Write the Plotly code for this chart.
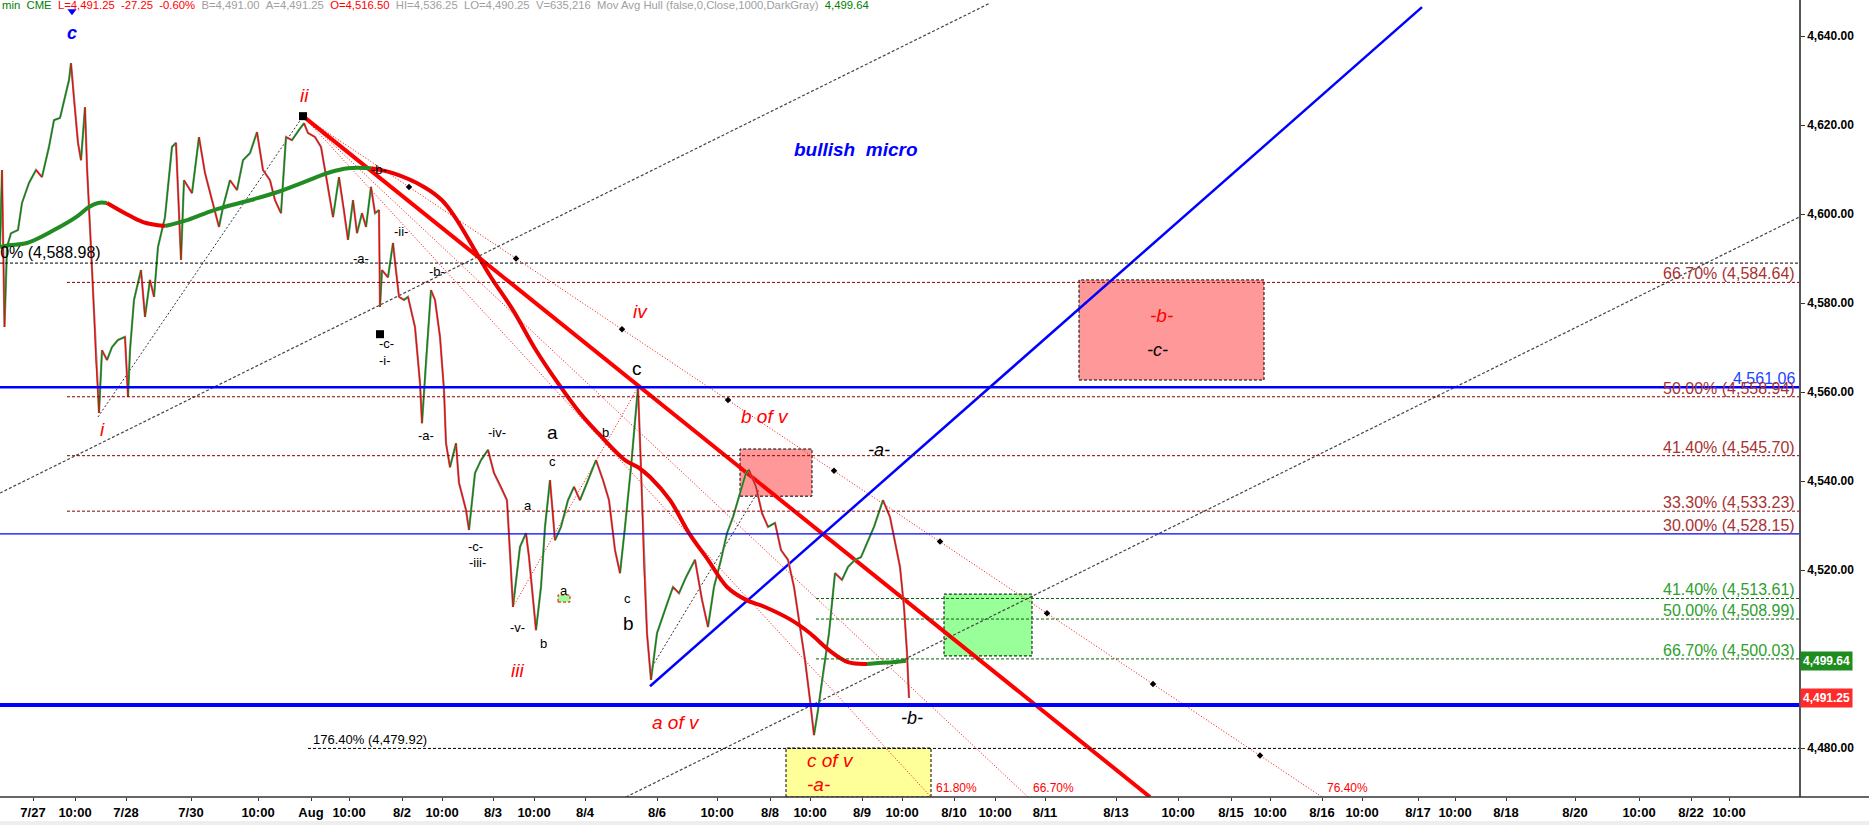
import plotly.graph_objects as go

FA = "Liberation Sans, Arial, sans-serif"

# ---------------- data ----------------
# x = bar slot index on the intraday session axis
tick_pos = [33, 75, 126, 191, 258, 311, 349, 402, 442, 493, 534, 585, 657, 717, 770, 810, 862, 902, 954,
            995, 1045, 1116, 1178, 1231, 1270, 1322, 1362, 1418, 1455, 1506, 1575, 1639, 1691, 1729]
tick_text = ["7/27", "10:00", "7/28", "7/30", "10:00", "Aug", "10:00", "8/2", "10:00", "8/3", "10:00", "8/4",
             "8/6", "10:00", "8/8", "10:00", "8/9", "10:00", "8/10", "10:00", "8/11", "8/13", "10:00", "8/15",
             "10:00", "8/16", "10:00", "8/17", "10:00", "8/18", "8/20", "10:00", "8/22", "10:00"]
price_ticks = [4480, 4520, 4540, 4560, 4580, 4600, 4620, 4640]

bar_x = [0, 2, 4.5, 7, 11, 18, 22, 29, 36, 42,
         49, 54, 60, 65, 69, 71, 74, 78, 81, 85,
         87, 91, 94, 96, 98, 99, 102, 107, 112, 118,
         125, 128, 130, 134, 141, 145, 150, 154, 158, 165,
         172, 176, 181, 184, 192, 199, 205, 212, 219, 223,
         230, 237, 243, 250, 257, 263, 270, 275, 281, 286,
         292, 299, 304, 308, 315, 321, 328, 333, 339, 344,
         348, 353, 357, 362, 366, 371, 375, 379, 380, 382,
         388, 393, 395, 399, 404, 408, 415, 420, 422, 426,
         431, 435, 440, 444, 446, 450, 456, 459, 466, 469,
         475, 481, 488, 494, 501, 507, 510, 513, 520, 526,
         529, 536, 541, 545, 550, 555, 561, 568, 574, 580,
         587, 596, 603, 609, 615, 620, 625, 631, 638, 641,
         644, 647, 651, 657, 666, 673, 679, 686, 695, 702,
         708, 714, 721, 727, 733, 740, 746, 749, 756, 762,
         768, 775, 781, 788, 794, 800, 805, 810, 814, 818,
         823, 829, 835, 842, 848, 855, 861, 867, 874, 883,
         890, 896, 900, 904, 907, 909]
price = [4592.6, 4609.9, 4574.6, 4592.6, 4595.7, 4596.4, 4602.5, 4607.0, 4609.9, 4608.3,
         4615.1, 4621.1, 4621.6, 4626.3, 4630.1, 4633.9, 4625.6, 4616.0, 4612.1, 4624.0,
         4610.6, 4592.6, 4577.8, 4567.2, 4559.8, 4555.3, 4569.4, 4567.2, 4570.1, 4571.7,
         4572.4, 4558.9, 4569.4, 4580.7, 4587.4, 4576.9, 4585.2, 4581.4, 4592.6, 4599.3,
         4615.1, 4616.0, 4589.7, 4607.6, 4604.7, 4617.3, 4609.2, 4603.1, 4597.1, 4601.6,
         4607.6, 4605.4, 4612.1, 4613.7, 4618.4, 4609.9, 4607.6, 4603.1, 4600.2, 4617.3,
         4616.6, 4618.9, 4620.4, 4618.2, 4617.3, 4615.1, 4606.1, 4599.3, 4608.3, 4600.9,
         4594.2, 4603.1, 4595.7, 4600.2, 4597.1, 4606.1, 4600.2, 4600.9, 4579.1, 4587.4,
         4585.8, 4593.5, 4589.0, 4581.4, 4580.7, 4581.4, 4574.6, 4562.0, 4553.0, 4567.2,
         4582.9, 4580.7, 4572.4, 4560.4, 4548.5, 4543.1, 4548.5, 4539.6, 4533.5, 4529.0,
         4541.8, 4544.7, 4547.0, 4541.8, 4538.7, 4535.7, 4523.8, 4511.7, 4525.2, 4528.3,
         4522.9, 4506.5, 4516.2, 4529.7, 4540.2, 4526.7, 4529.7, 4535.7, 4538.7, 4535.7,
         4539.6, 4544.7, 4540.2, 4535.7, 4524.5, 4519.3, 4529.7, 4543.1, 4561.1, 4543.1,
         4520.7, 4505.8, 4495.3, 4505.8, 4511.7, 4516.2, 4514.8, 4518.4, 4522.3, 4513.3,
         4507.2, 4516.2, 4522.3, 4528.3, 4531.9, 4537.3, 4541.8, 4542.5, 4538.7, 4532.8,
         4529.7, 4530.6, 4524.5, 4522.3, 4516.2, 4507.2, 4499.8, 4490.8, 4482.9, 4488.5,
         4496.9, 4505.8, 4519.3, 4517.8, 4520.7, 4522.3, 4522.9, 4526.1, 4529.7, 4535.7,
         4531.9, 4525.2, 4520.7, 4511.7, 4501.4, 4491.25]

hma_x = [0, 9, 27, 54, 76, 89, 98, 107, 125, 143, 165, 188, 214, 250, 277, 304, 330, 348, 371, 393,
         424, 442, 455, 473, 491, 513, 536, 558, 580, 598, 625, 638, 650, 670, 689, 708, 727, 746, 765, 791,
         810, 829, 848, 867, 886, 906]
hma_p = [4592.6, 4593.0, 4593.5, 4596.4, 4599.3, 4601.6, 4602.5, 4602.5, 4600.2, 4598.2,
         4597.3, 4598.7, 4600.9, 4603.1, 4604.9, 4607.2, 4609.4, 4610.3, 4610.3, 4609.2,
         4606.1, 4603.1, 4599.3, 4592.6, 4585.8, 4578.4, 4569.4, 4562.0, 4555.3, 4550.8,
         4544.7, 4543.1, 4540.9, 4535.7, 4528.3, 4522.3, 4516.2, 4513.3, 4511.7, 4508.8,
         4505.8, 4502.0, 4499.3, 4498.9, 4499.2, 4499.64]

level_price = [4588.98, 4584.64, 4561.06, 4558.94, 4545.70, 4533.23, 4528.15,
               4513.61, 4508.99, 4500.03, 4489.70, 4479.92]
level_start = [0, 67, 0, 67, 67, 67, 0, 816, 816, 816, 0, 308]
level_text = ["50.00% (4,588.98)", "66.70% (4,584.64)", "4,561.06", "50.00% (4,558.94)",
              "41.40% (4,545.70)", "33.30% (4,533.23)", "30.00% (4,528.15)",
              "41.40% (4,513.61)", "50.00% (4,508.99)", "66.70% (4,500.03)", "", "176.40% (4,479.92)"]

# zones: x0, x1, p_low, p_high
zone_x0 = [1079, 740, 944, 786, 558]
zone_x1 = [1264, 812, 1032, 931, 570]
zone_lo = [4562.7, 4536.6, 4500.7, 4469.0, 4512.8]
zone_hi = [4585.2, 4547.2, 4514.6, 4480.0, 4514.4]

# wave ii pivot and fan ends
pivot_x, pivot_p = 303, 4622.0
fan_end_x = [931, 1028, 1322]
fan_end_p = [4469.0, 4469.0, 4469.0]
fan_text = ["61.80%", "66.70%", "76.40%"]
fan_dot_x = [409, 516, 622, 728, 834, 940, 1047, 1153, 1260]
fan_dot_p = [4606.1, 4590.0, 4574.1, 4558.2, 4542.3, 4526.4, 4510.3, 4494.4, 4478.3]

# trend lines: main red, blue micro, black channel A, black channel B, i->ii, 8/6 low->b, -v- -> c
tl_x0 = [303, 650, 0, 626, 98, 650, 513]
tl_p0 = [4622.0, 4493.9, 4537.3, 4469.0, 4554.4, 4497.5, 4511.7]
tl_x1 = [1150, 1422, 990, 1799, 303, 759, 638]
tl_p1 = [4469.0, 4646.5, 4647.4, 4599.3, 4622.0, 4538.0, 4561.1]

marker_sq_x = [303, 380]
marker_sq_p = [4622.0, 4573.0]

red_lbl = ["ii", "i", "iii", "iv", "b of v", "a of v", "c of v", "-a-", "-b-"]
red_lbl_x = [304, 102, 517, 640, 765, 676, 830, 818, 1161]
red_lbl_p = [4626.7, 4551.5, 4497.5, 4578.0, 4554.4, 4485.8, 4477.3, 4471.7, 4577.3]

blk_it_lbl = ["-c-", "-a-", "-b-"]
blk_it_x = [1157, 879, 912]
blk_it_p = [4569.4, 4547.0, 4486.7]

blk_sm_lbl = ["-b-", "-ii-", "-a-", "-b-", "-c-", "-i-", "-a-", "-iv-", "b", "c", "a", "-c-", "-iii-",
              "a", "-v-", "b", "c"]
blk_sm_x = [379, 401, 361, 437, 386, 385, 426, 497, 605, 552, 528, 475, 477, 564, 517, 543, 627]
blk_sm_p = [4609.9, 4596.0, 4589.9, 4587.0, 4571.0, 4567.2, 4550.3, 4551.0, 4551.0, 4544.5, 4534.6,
            4525.4, 4521.6, 4515.5, 4507.2, 4503.6, 4513.5]

blk_lg_lbl = ["a", "c", "b"]
blk_lg_x = [552, 637, 628]
blk_lg_p = [4551.0, 4565.4, 4507.9]

last_price = 4491.25
hma_last = 4499.64

# ---------------- figure ----------------
fig = go.Figure()

# zones (below traces)
zone_fill = ["#FF9999", "#FF9999", "#99FF99", "#FFFF99", "#99FF99"]
zone_line = ["black", "black", "black", "black", "red"]
for i in range(len(zone_x0)):
    fig.add_shape(type="rect", xref="x", yref="y", x0=zone_x0[i], x1=zone_x1[i],
                  y0=zone_lo[i], y1=zone_hi[i], fillcolor=zone_fill[i], layer="below",
                  line=dict(color=zone_line[i], width=1, dash="3px,2px"))

# horizontal levels
lv_color = ["black", "#8B0000", "#0000FF", "#8B0000", "#8B0000", "#8B0000", "#0000FF",
            "#006400", "#006400", "#006400", "#0000FF", "black"]
lv_width = [1, 1, 2.5, 1, 1, 1, 1.3, 1, 1, 1, 4, 1]
lv_dash = ["3px,2px", "3px,2px", "solid", "3px,2px", "3px,2px", "3px,2px", "solid",
           "3px,2px", "3px,2px", "3px,2px", "solid", "3px,2px"]
lv_tcolor = ["black", "#A83232", "#1F3FFF", "#A83232", "#A83232", "#A83232", "#A83232",
             "#2E9E2E", "#2E9E2E", "#2E9E2E", "black", "black"]
for i, p in enumerate(level_price):
    fig.add_shape(type="line", xref="x", yref="y", x0=level_start[i], x1=1799, y0=p, y1=p,
                  line=dict(color=lv_color[i], width=lv_width[i], dash=lv_dash[i]))
    if not level_text[i]:
        continue
    if i == 0:
        fig.add_annotation(x=103, y=p, xref="x", yref="y", text=level_text[i], showarrow=False,
                           xanchor="right", yanchor="bottom", yshift=0,
                           font=dict(family=FA, size=16, color=lv_tcolor[i]))
    elif i == len(level_price) - 1:
        fig.add_annotation(x=311, y=p, xref="x", yref="y", text=level_text[i], showarrow=False,
                           xanchor="left", yanchor="bottom", yshift=-1,
                           font=dict(family=FA, size=13, color=lv_tcolor[i]))
    else:
        fig.add_annotation(x=1797, y=p, xref="x", yref="y", text=level_text[i], showarrow=False,
                           xanchor="right", yanchor="bottom", yshift=-2,
                           font=dict(family=FA, size=16, color=lv_tcolor[i]))

# fan lines from wave ii
for i in range(len(fan_end_x)):
    fig.add_trace(go.Scatter(x=[pivot_x, fan_end_x[i]], y=[pivot_p, fan_end_p[i]], mode="lines",
                             line=dict(color="red", width=1, dash="1px,2px"), hoverinfo="skip"))
    fig.add_annotation(x=fan_end_x[i], y=fan_end_p[i], xref="x", yref="y", text=fan_text[i],
                       showarrow=False, xanchor="left", yanchor="bottom", xshift=3, yshift=0,
                       font=dict(family=FA, size=12, color="red"))
fig.add_trace(go.Scatter(x=fan_dot_x, y=fan_dot_p, mode="markers",
                         marker=dict(symbol="diamond", size=5, color="black"), hoverinfo="skip"))

# trend lines
tl_color = ["red", "blue", "#444444", "#444444", "#333333", "#333333", "red"]
tl_width = [4, 2.5, 1.2, 1.2, 1, 1, 1]
tl_dash = ["solid", "solid", "3px,2px", "3px,2px", "2px,2px", "2px,2px", "1px,2px"]
for i in range(len(tl_x0)):
    fig.add_trace(go.Scatter(x=[tl_x0[i], tl_x1[i]], y=[tl_p0[i], tl_p1[i]], mode="lines",
                             line=dict(color=tl_color[i], width=tl_width[i], dash=tl_dash[i]),
                             hoverinfo="skip"))

# price path split into up (green) and down (red) moves
ux, uy, dx, dy = [], [], [], []
for i in range(1, len(price)):
    if price[i] >= price[i - 1]:
        ux += [bar_x[i - 1], bar_x[i], None]
        uy += [price[i - 1], price[i], None]
    else:
        dx += [bar_x[i - 1], bar_x[i], None]
        dy += [price[i - 1], price[i], None]
fig.add_trace(go.Scatter(x=bar_x, y=price, mode="lines", line=dict(color="#8C8C8C", width=2.2),
                         hoverinfo="skip"))
fig.add_trace(go.Scatter(x=ux, y=uy, mode="lines", line=dict(color="#008A00", width=1.2), hoverinfo="skip"))
fig.add_trace(go.Scatter(x=dx, y=dy, mode="lines", line=dict(color="#FF0000", width=1.2), hoverinfo="skip"))

# Hull moving average coloured by slope
runs = []
cur = None
for i in range(1, len(hma_p)):
    d = hma_p[i] - hma_p[i - 1]
    col = cur if d == 0 else ("#228B22" if d > 0 else "#EE0000")
    if col is None:
        col = "#228B22"
    if col != cur:
        runs.append([col, [hma_x[i - 1]], [hma_p[i - 1]]])
        cur = col
    runs[-1][1].append(hma_x[i])
    runs[-1][2].append(hma_p[i])
for col, xs, ys in runs:
    fig.add_trace(go.Scatter(x=xs, y=ys, mode="lines", line=dict(color=col, width=4, shape="spline"),
                             hoverinfo="skip"))

# pivot squares and top arrow
fig.add_trace(go.Scatter(x=marker_sq_x, y=marker_sq_p, mode="markers",
                         marker=dict(symbol="square", size=8, color="black"), hoverinfo="skip"))
fig.add_trace(go.Scatter(x=[72], y=[4645.6], mode="markers",
                         marker=dict(symbol="triangle-down", size=8, color="blue"), hoverinfo="skip"))

# labels
for t, x, p in zip(red_lbl, red_lbl_x, red_lbl_p):
    fig.add_annotation(x=x, y=p, text=t, showarrow=False,
                       font=dict(family=FA, size=19, color="red", style="italic"))
for t, x, p in zip(blk_it_lbl, blk_it_x, blk_it_p):
    fig.add_annotation(x=x, y=p, text=t, showarrow=False,
                       font=dict(family=FA, size=18, color="black", style="italic"))
for t, x, p in zip(blk_sm_lbl, blk_sm_x, blk_sm_p):
    fig.add_annotation(x=x, y=p, text=t, showarrow=False,
                       font=dict(family=FA, size=13, color="black"))
for t, x, p in zip(blk_lg_lbl, blk_lg_x, blk_lg_p):
    fig.add_annotation(x=x, y=p, text=t, showarrow=False,
                       font=dict(family=FA, size=19, color="black"))
fig.add_annotation(x=72, y=4640.7, text="c", showarrow=False,
                   font=dict(family=FA, size=18, color="blue", style="italic", weight="bold"))
fig.add_annotation(x=856, y=4614.4, text="bullish  micro", showarrow=False,
                   font=dict(family=FA, size=19, color="blue", style="italic", weight="bold"))

# right-axis price flags
fig.add_annotation(xref="paper", x=1.0, xanchor="left", xshift=1, y=hma_last, yref="y",
                   text="<b>4,499.64</b>", showarrow=False, bgcolor="#1E8C1E", borderpad=2,
                   font=dict(family=FA, size=12, color="white"))
fig.add_annotation(xref="paper", x=1.0, xanchor="left", xshift=1, y=last_price, yref="y",
                   text="<b>4,491.25</b>", showarrow=False, bgcolor="#FF2A2A", borderpad=2,
                   font=dict(family=FA, size=12, color="white"))

# header line
nb = "\u00a0"
hdr = (f'<span style="color:#008000">min{nb}{nb}CME</span>{nb}{nb}'
       f'<span style="color:#FF0000">L=4,491.25{nb}{nb}-27.25{nb}{nb}-0.60%</span>{nb}{nb}'
       f'<span style="color:#A0A0A0">B=4,491.00{nb}{nb}A=4,491.25</span>{nb}{nb}'
       f'<span style="color:#FF0000">O=4,516.50</span>{nb}{nb}'
       f'<span style="color:#A0A0A0">HI=4,536.25{nb}{nb}LO=4,490.25{nb}{nb}V=635,216{nb}{nb}'
       f'Mov Avg Hull (false,0,Close,1000,DarkGray)</span>{nb}{nb}'
       f'<span style="color:#008000">4,499.64</span>')
fig.add_annotation(xref="paper", yref="paper", x=0, y=0.9935, xanchor="left", yanchor="middle",
                   text=hdr, showarrow=False, font=dict(family=FA, size=11.3))

# x axis line across full width, and bottom strip
fig.add_shape(type="line", xref="paper", yref="paper", x0=0, x1=1869 / 1799, y0=0, y1=0,
              line=dict(color="#333333", width=1.5))
fig.add_shape(type="rect", xref="paper", yref="paper", x0=0, x1=1869 / 1799, y0=-28 / 797,
              y1=-24 / 797, fillcolor="#EEEEEE", line=dict(width=0))

fig.update_layout(
    width=1869, height=825, autosize=False,
    margin=dict(l=0, r=70, t=0, b=28, autoexpand=False),
    paper_bgcolor="white", plot_bgcolor="white",
    showlegend=False,
    xaxis=dict(range=[0, 1799], showgrid=False, zeroline=False, tickmode="array",
               tickvals=tick_pos, ticktext=tick_text, ticks="outside", ticklen=3, tickcolor="#333",
               tickangle=0, automargin=False,
               tickfont=dict(family=FA, size=13, color="black", weight="bold"),
               showline=False, fixedrange=True),
    yaxis=dict(range=[4469.0, 4648.1], side="right", showgrid=False, zeroline=False,
               tickvals=price_ticks, tickformat=",.2f",
               ticks="outside", ticklen=4, tickcolor="#333", showline=True, linecolor="#555",
               linewidth=1.5, automargin=False,
               tickfont=dict(family=FA, size=12, color="black", weight="bold"), fixedrange=True),
)

fig.write_html("out.html", config={"displayModeBar": False},
               post_script="document.body.style.margin='0px';document.body.style.overflow='hidden';")
